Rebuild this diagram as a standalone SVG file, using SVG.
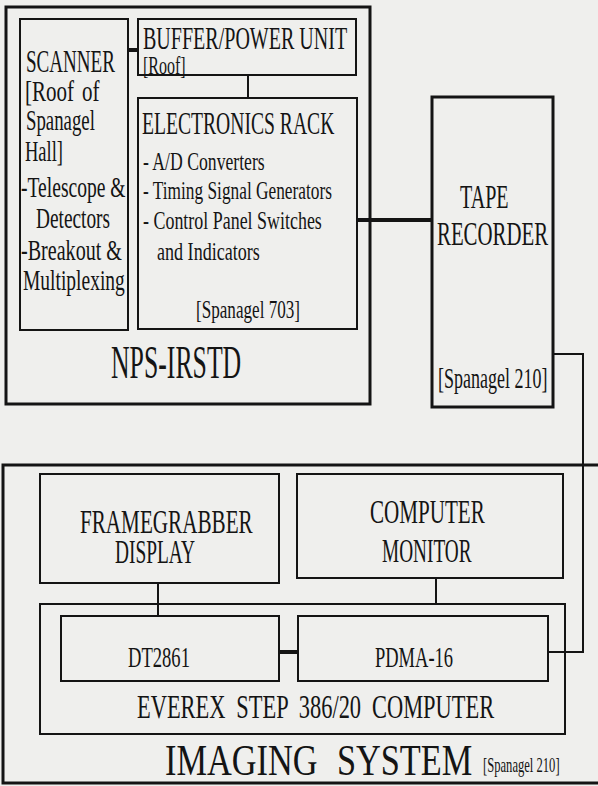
<svg xmlns="http://www.w3.org/2000/svg" width="598" height="786" viewBox="0 0 598 786">
<style>
.box{fill:none;stroke:#141414;stroke-width:2}
.outer{fill:none;stroke:#141414;stroke-width:3}
.conn{fill:none;stroke:#141414;stroke-width:2}
.thick{fill:none;stroke:#141414;stroke-width:4}
text{font-family:"Liberation Serif","Times New Roman",serif;fill:#141414}
.s30{font-size:30px}
.s26{font-size:26px}
.s32{font-size:32px}
.s34{font-size:34px}
</style>
<rect x="0" y="0" width="598" height="786" fill="#efefed"/>
<g id="connectors">
<line class="thick" x1="128" y1="50" x2="138" y2="50"/>
<line class="conn" x1="248" y1="75" x2="248" y2="98"/>
<line class="thick" x1="357" y1="220" x2="432" y2="220"/>
<polyline class="conn" points="553,354 583,354 583,652 548,652"/>
<line class="conn" x1="158" y1="583" x2="158" y2="616"/>
<line class="conn" x1="436" y1="578" x2="436" y2="604"/>
<line class="thick" x1="279" y1="652" x2="298" y2="652"/>
</g>
<g id="nps-irstd">
<rect class="outer" x="6" y="7" width="364" height="397"/>
<text transform="translate(111,378) scale(0.56,1)" style="font-size:46px">NPS-IRSTD</text>
</g>
<g id="scanner">
<rect class="box" x="20" y="19" width="108" height="311"/>
<text class="s30" transform="translate(26,72) scale(0.615,1)" style="font-size:31px">SCANNER</text>
<text class="s30" transform="translate(25,101) scale(0.70,1)" style="word-spacing:4px">[Roof of</text>
<text class="s30" transform="translate(26,130) scale(0.627,1)">Spanagel</text>
<text class="s30" transform="translate(25,161) scale(0.616,1)">Hall]</text>
<text class="s30" transform="translate(21,197) scale(0.652,1)">-Telescope &amp;</text>
<text class="s30" transform="translate(36,228) scale(0.644,1)">Detectors</text>
<text class="s30" transform="translate(21,260) scale(0.67,1)">-Breakout &amp;</text>
<text class="s30" transform="translate(23,290) scale(0.65,1)">Multiplexing</text>
</g>
<g id="buffer">
<rect class="box" x="138" y="19" width="218" height="56"/>
<text class="s32" transform="translate(143,49) scale(0.626,1)">BUFFER/POWER UNIT</text>
<text transform="translate(143,74) scale(0.64,1)" style="font-size:25px">[Roof]</text>
</g>
<g id="electronics">
<rect class="box" x="138" y="98" width="219" height="231"/>
<text class="s32" transform="translate(142,134) scale(0.613,1)">ELECTRONICS RACK</text>
<text class="s26" transform="translate(143,170) scale(0.68,1)">- A/D Converters</text>
<text class="s26" transform="translate(143,199) scale(0.666,1)">- Timing Signal Generators</text>
<text class="s26" transform="translate(143,229) scale(0.69,1)">- Control Panel Switches</text>
<text class="s26" transform="translate(157,260) scale(0.696,1)">and Indicators</text>
<text class="s26" transform="translate(196,318) scale(0.658,1)">[Spanagel 703]</text>
</g>
<g id="tape-recorder">
<rect class="outer" x="432" y="97" width="121" height="310"/>
<text class="s34" transform="translate(460,208) scale(0.59,1)">TAPE</text>
<text class="s34" transform="translate(437,245) scale(0.613,1)">RECORDER</text>
<text transform="translate(438,388) scale(0.6,1)" style="font-size:30px">[Spanagel 210]</text>
</g>
<g id="imaging-system">
<rect class="outer" x="3" y="465" width="600" height="318"/>
<text transform="translate(165,775) scale(0.78,1)" style="font-size:44px;word-spacing:14px">IMAGING SYSTEM</text>
<text transform="translate(483,772) scale(0.63,1)" style="font-size:20px">[Spanagel 210]</text>
</g>
<g id="framegrabber">
<rect class="box" x="40" y="474" width="239" height="109"/>
<text class="s34" transform="translate(80,533) scale(0.622,1)">FRAMEGRABBER</text>
<text class="s34" transform="translate(115,563) scale(0.57,1)">DISPLAY</text>
</g>
<g id="computer-monitor">
<rect class="box" x="297" y="474" width="266" height="104"/>
<text class="s34" transform="translate(370,523) scale(0.62,1)">COMPUTER</text>
<text class="s34" transform="translate(382,562) scale(0.567,1)">MONITOR</text>
</g>
<g id="everex">
<rect class="box" x="40" y="604" width="525" height="130"/>
<text class="s34" transform="translate(137,718) scale(0.66,1)" style="word-spacing:8px">EVEREX STEP 386/20 COMPUTER</text>
</g>
<g id="dt2861">
<rect class="box" x="61" y="616" width="218" height="65"/>
<text class="s30" transform="translate(128,667) scale(0.62,1)">DT2861</text>
</g>
<g id="pdma16">
<rect class="box" x="298" y="616" width="250" height="65"/>
<text class="s30" transform="translate(375,667) scale(0.616,1)">PDMA-16</text>
</g>
</svg>
